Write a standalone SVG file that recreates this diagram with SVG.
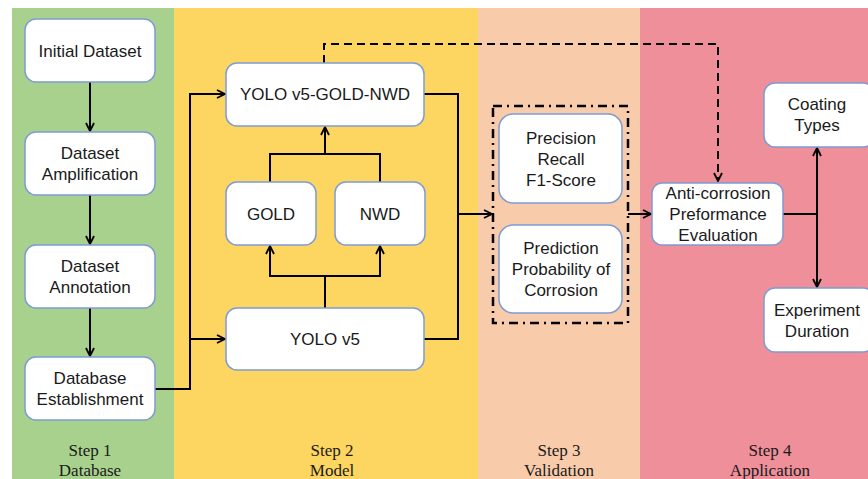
<svg xmlns="http://www.w3.org/2000/svg" width="868" height="479" viewBox="0 0 868 479">
<defs>
<style>
.node rect{fill:#fff;stroke:#7E9CD3;stroke-width:1.5}
.node text{font-family:"Liberation Sans",Arial,sans-serif;font-size:17px;fill:#1a1a1a;text-anchor:middle}
.step{font-family:"Liberation Serif","Times New Roman",serif;font-size:17px;fill:#1a1a1a;text-anchor:middle}
.c{fill:none;stroke:#000;stroke-width:2}
.dash{fill:none;stroke:#000;stroke-width:2;stroke-dasharray:8,5}
.dashdot{fill:none;stroke:#000;stroke-width:2.5;stroke-dasharray:9,5,2,5}
</style>
<marker id="arr" viewBox="0 0 10 10" refX="9" refY="5" markerWidth="10" markerHeight="10" markerUnits="userSpaceOnUse" orient="auto">
<path d="M1,1 L9,5 L1,9" fill="none" stroke="#000" stroke-width="1.8"/>
</marker>
</defs>
<rect x="0" y="0" width="868" height="479" fill="#fff"/>
<g id="bands">
<rect x="12" y="8" width="162" height="471" fill="#A9D18E"/>
<rect x="174" y="8" width="304" height="471" fill="#FCD660"/>
<rect x="478" y="8" width="162" height="471" fill="#F8CCAB"/>
<rect x="640" y="8" width="228" height="471" fill="#EE8F9A"/>
<text class="step" x="90" y="456">Step 1</text>
<text class="step" x="90" y="476">Database</text>
<text class="step" x="332" y="456">Step 2</text>
<text class="step" x="332" y="476">Model</text>
<text class="step" x="559" y="456">Step 3</text>
<text class="step" x="559" y="476">Validation</text>
<text class="step" x="770" y="456">Step 4</text>
<text class="step" x="770" y="476">Application</text>
</g>
<g id="connectors">
<path class="c" d="M90,82 V131" marker-end="url(#arr)"/>
<path class="c" d="M90,195 V244" marker-end="url(#arr)"/>
<path class="c" d="M90,308 V356" marker-end="url(#arr)"/>
<path class="c" d="M155,389 H190 V94 H225" marker-end="url(#arr)"/>
<path class="c" d="M190,339 H225" marker-end="url(#arr)"/>
<path class="c" d="M325,308 V276 H270 V246" marker-end="url(#arr)"/>
<path class="c" d="M325,276 H380 V246" marker-end="url(#arr)"/>
<path class="c" d="M270,182 V154 H380 V182"/>
<path class="c" d="M325,154 V127" marker-end="url(#arr)"/>
<path class="c" d="M424,94 H458 V339 H424"/>
<path class="c" d="M458,214 H492" marker-end="url(#arr)"/>
<path class="dash" d="M324,63 V44 H718 V181" marker-end="url(#arr)"/>
<rect class="dashdot" x="493" y="106" width="135" height="217"/>
<path class="c" d="M628,214 H651" marker-end="url(#arr)"/>
<path class="c" d="M783,214 H817"/>
<path class="c" d="M817,214 V148" marker-end="url(#arr)"/>
<path class="c" d="M817,214 V287" marker-end="url(#arr)"/>
</g>
<g id="n-initial" class="node"><rect x="25" y="19" width="130" height="63" rx="11"/><text x="90" y="57">Initial Dataset</text></g>
<g id="n-amplification" class="node"><rect x="25" y="132" width="130" height="63" rx="11"/><text x="90" y="159">Dataset</text><text x="90" y="180">Amplification</text></g>
<g id="n-annotation" class="node"><rect x="25" y="245" width="130" height="63" rx="11"/><text x="90" y="272">Dataset</text><text x="90" y="293">Annotation</text></g>
<g id="n-establishment" class="node"><rect x="25" y="357" width="130" height="63" rx="11"/><text x="90" y="384">Database</text><text x="90" y="405">Establishment</text></g>
<g id="n-yolo-gold-nwd" class="node"><rect x="226" y="63" width="198" height="63" rx="11"/><text x="325" y="100">YOLO v5-GOLD-NWD</text></g>
<g id="n-gold" class="node"><rect x="226" y="182" width="90" height="63" rx="11"/><text x="271" y="220">GOLD</text></g>
<g id="n-nwd" class="node"><rect x="335" y="182" width="90" height="63" rx="11"/><text x="380" y="220">NWD</text></g>
<g id="n-yolov5" class="node"><rect x="226" y="308" width="198" height="62" rx="11"/><text x="325" y="345">YOLO v5</text></g>
<g id="n-precision" class="node"><rect x="499" y="114" width="123" height="89" rx="14"/><text x="561" y="144">Precision</text><text x="561" y="165">Recall</text><text x="561" y="186">F1-Score</text></g>
<g id="n-prediction" class="node"><rect x="499" y="225" width="123" height="88" rx="14"/><text x="561" y="254">Prediction</text><text x="561" y="275">Probability of</text><text x="561" y="296">Corrosion</text></g>
<g id="n-anticorrosion" class="node"><rect x="652" y="183" width="131" height="62" rx="10"/><text x="718" y="199">Anti-corrosion</text><text x="718" y="220">Preformance</text><text x="718" y="241">Evaluation</text></g>
<g id="n-coating" class="node"><rect x="764" y="83" width="110" height="64" rx="11"/><text x="817" y="110">Coating</text><text x="817" y="131">Types</text></g>
<g id="n-experiment" class="node"><rect x="764" y="288" width="110" height="64" rx="11"/><text x="817" y="316">Experiment</text><text x="817" y="337">Duration</text></g>
</svg>
